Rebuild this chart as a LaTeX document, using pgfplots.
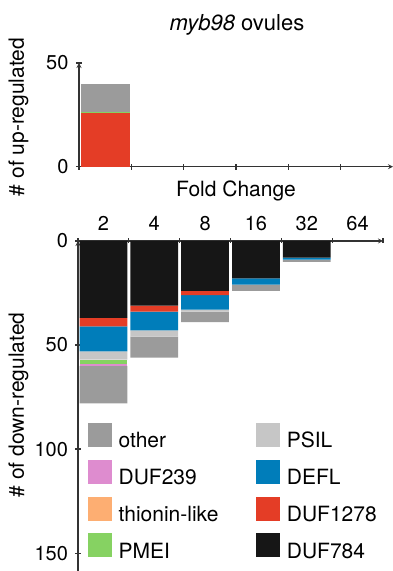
\documentclass[border=0pt]{standalone}
\usepackage{fontspec}
\setmainfont{TeX Gyre Heros}
\usepackage{pgfplots}
\usepackage{pgfplotstable}
\pgfplotsset{compat=1.18}
\definecolor{cOther}{HTML}{9B9B9B}
\definecolor{cPSIL}{HTML}{C6C6C6}
\definecolor{cDUFtwo}{HTML}{DE8CCF}
\definecolor{cDEFL}{HTML}{007DBA}
\definecolor{cThio}{HTML}{FDAE72}
\definecolor{cDUFtw}{HTML}{E43D26}
\definecolor{cPMEI}{HTML}{86D262}
\definecolor{cDUFse}{HTML}{161616}
\definecolor{axgray}{HTML}{333333}
\newcommand\fs{\fontsize{21}{24}\selectfont}
\newcommand\ft{\fontsize{20}{23}\selectfont}
\newcommand\sw[1]{\addlegendimage{legend image code/.code={\fill[#1] (0pt,-5pt) rectangle (23pt,18pt);}}}

\pgfplotstableread{
x DUF784 DUF1278 DEFL PSIL PMEI thionin DUF239 other
0 -37 -4 -12 -4 -2 0 -1 -18
1 -31 -3 -9 -3 0 0 0 -10
2 -24 -2 -7 -1 0 0 0 -5
3 -18 0 -3 0 0 0 0 -3
4 -8 0 -1 0 0 0 0 -1
}\down

\pgfplotstableread{
x DUF1278 PMEI other
0 26 0.3 13.7
}\up

\pgfplotsset{
  common/.style={
    scale only axis,
    enlargelimits=false,
    axis line style={-, line width=1.2pt, axgray},
    tick style={line width=1.2pt, axgray},
    tick align=outside,
    every tick label/.append style={font=\ft, text=black},
    yticklabel style={xshift=-4pt},
    /pgf/number format/assume math mode=true,
    xmin=-0.5, xmax=5.5,
    ybar stacked,
    bar width=0.94,
  },
}

\begin{document}
\begin{tikzpicture}
\useasboundingbox (0,0) rectangle (393pt,571pt);

% upper axis
\begin{axis}[common,
  at={(79pt,404.3pt)}, anchor=south west,
  width=314pt, height=103.7pt,
  ymin=0, ymax=50,
  axis x line=bottom, axis y line=left,
  xtick={-0.5,0.5,1.5,2.5,3.5,4.5}, xticklabels=\empty,
  ytick={0,50},
  major tick length=6pt,
]
\addplot[fill=cDUFtw, draw=none] table[x=x, y=DUF1278] {\up};
\addplot[fill=cPMEI, draw=none] table[x=x, y=PMEI] {\up};
\addplot[fill=cOther, draw=none] table[x=x, y=other] {\up};
\end{axis}

% lower axis
\begin{axis}[common,
  at={(78pt,0pt)}, anchor=south west,
  width=305pt, height=330pt,
  ymin=-158.6, ymax=0,
  axis x line=top, axis y line=left,
  xtick={-0.5,0.5,1.5,2.5,3.5,4.5,5.5},
  xticklabels={2,4,8,16,32,64},
  x tick label as interval,
  xticklabel style={yshift=4pt},
  ytick={-150,-100,-50,0},
  yticklabels={150,100,50,0},
  major tick length=5pt,
  legend columns=2,
  legend style={draw=none, fill=none, inner sep=0pt,
    at={(axis cs:-0.303,-87.5)}, anchor=north west,
    font=\fs, row sep=9pt,
    nodes={inner sep=0pt, text depth=3pt, text height=16pt},
    /tikz/every odd column/.append style={column sep=7pt},
    /tikz/every even column/.append style={column sep=38pt}},
  legend cell align=left,
]
\addplot[fill=cDUFse, draw=none, forget plot] table[x=x, y=DUF784] {\down};
\addplot[fill=cDUFtw, draw=none, forget plot] table[x=x, y=DUF1278] {\down};
\addplot[fill=cDEFL, draw=none, forget plot] table[x=x, y=DEFL] {\down};
\addplot[fill=cPSIL, draw=none, forget plot] table[x=x, y=PSIL] {\down};
\addplot[fill=cPMEI, draw=none, forget plot] table[x=x, y=PMEI] {\down};
\addplot[fill=cThio, draw=none, forget plot] table[x=x, y=thionin] {\down};
\addplot[fill=cDUFtwo, draw=none, forget plot] table[x=x, y=DUF239] {\down};
\addplot[fill=cOther, draw=none, forget plot] table[x=x, y=other] {\down};
\sw{cOther}\addlegendentry{other}
\sw{cPSIL}\addlegendentry{PSIL}
\sw{cDUFtwo}\addlegendentry{DUF239}
\sw{cDEFL}\addlegendentry{DEFL}
\sw{cThio}\addlegendentry{thionin-like}
\sw{cDUFtw}\addlegendentry{DUF1278}
\sw{cPMEI}\addlegendentry{PMEI}
\sw{cDUFse}\addlegendentry{DUF784}
\end{axis}

\node[anchor=base, font=\fontsize{22}{25}\selectfont] at (237pt,540pt) {\textit{myb98} ovules};
\node[anchor=base, font=\fs] at (236pt,374pt) {Fold Change};
\node[rotate=90, font=\fs] at (18.5pt,454pt) {\# of up-regulated};
\node[rotate=90, font=\fs] at (18.5pt,166pt) {\# of down-regulated};
\end{tikzpicture}
\end{document}
